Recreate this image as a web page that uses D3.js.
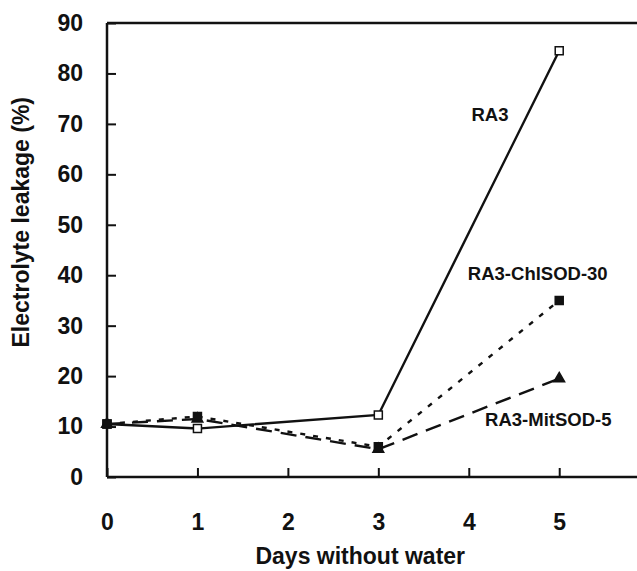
<!DOCTYPE html>
<html>
<head>
<meta charset="utf-8">
<script src="https://cdn.jsdelivr.net/npm/d3@7"></script>
<style>
  body { margin: 0; background: #fff; }
  text { font-family: "Liberation Sans", Arial, sans-serif; font-weight: bold; fill: #111; }
</style>
</head>
<body>
<div class="chart"></div>
<script>
// DATA
// ----------------------------
const days = [0, 1, 3, 5]
const ra3 = [10.5, 9.6, 12.3, 84.5]
const chlSod = [10.5, 12, 6, 35]
const mitSod = [10.5, 11.5, 5.5, 19.5]
const xTicks = [0, 1, 2, 3, 4, 5]
const yTicks = [0, 10, 20, 30, 40, 50, 60, 70, 80, 90]

// SETUP
// ----------------------------
const margin = { top: 23, bottom: 94, left: 107, right: 0 }
const fullWidth = 637
const fullHeight = 571
const width = fullWidth - margin.left - margin.right
const height = fullHeight - margin.top - margin.bottom

const svg = d3.select('.chart')
  .append('svg')
    .attr('width', fullWidth)
    .attr('height', fullHeight)
  .append('g')
    .attr('transform', `translate(${margin.left}, ${margin.top})`)

const xScale = d3.scaleLinear()
  .domain([0, 5.86])
  .range([0, width])
const yScale = d3.scaleLinear()
  .domain([0, 90])
  .range([height, 0])

// AXES (ticks point inward)
// ----------------------------
const xMinor = d3.axisBottom(xScale)
  .tickValues(d3.range(0.5, 5.9, 1))
  .tickSize(-5).tickFormat('')
const xAxis = d3.axisBottom(xScale)
  .tickValues(xTicks)
  .tickSize(-9).tickPadding(37)
  .tickFormat(d3.format('d'))
const gx = svg.append('g').attr('transform', `translate(0, ${height})`)
gx.call(xMinor)
gx.call(xAxis)

const yMinor = d3.axisLeft(yScale)
  .tickValues(d3.range(0, 91, 2).filter(v => v % 10 !== 0))
  .tickSize(-5).tickFormat('')
const yAxis = d3.axisLeft(yScale)
  .tickValues(yTicks)
  .tickSize(-9).tickPadding(24)
const gy = svg.append('g')
gy.call(yMinor)
gy.call(yAxis)

svg.selectAll('.domain').attr('stroke', '#111').attr('stroke-width', 2.5)
svg.selectAll('.tick line').attr('stroke', '#111').attr('stroke-width', 2)
svg.selectAll('.tick text').style('font-size', '23px')
gx.selectAll('.domain').attr('d', `M0,0H${width}`)
gy.selectAll('.domain').attr('d', `M0,${height}V0`)

// top frame line
svg.append('line')
  .attr('x1', 0).attr('x2', width)
  .attr('y1', 0).attr('y2', 0)
  .attr('stroke', '#111').attr('stroke-width', 2.5)

// axis titles
svg.append('text')
  .attr('x', xScale(2.8)).attr('y', height + 87)
  .attr('text-anchor', 'middle')
  .style('font-size', '23px')
  .text('Days without water')
svg.append('text')
  .attr('transform', `translate(${-78}, ${yScale(50.5)}) rotate(-90)`)
  .attr('text-anchor', 'middle')
  .style('font-size', '23px')
  .text('Electrolyte leakage (%)')

// LINES
// ----------------------------
const series = [
  { name: 'RA3', values: ra3, dash: null, marker: 'open' },
  { name: 'RA3-MitSOD-5', values: mitSod, dash: '16,9', marker: 'tri' },
  { name: 'RA3-ChlSOD-30', values: chlSod, dash: '5,8', marker: 'fill' }
]
const line = d3.line()
  .x(d => xScale(d[0]))
  .y(d => yScale(d[1]))

series.forEach(s => {
  const pts = days.map((d, i) => [d, s.values[i]])
  svg.append('path')
    .attr('d', line(pts))
    .attr('fill', 'none')
    .attr('stroke', '#111')
    .attr('stroke-width', 2.4)
    .attr('stroke-dasharray', s.dash)

  const sym = s.marker === 'tri' ? d3.symbolTriangle : d3.symbolSquare
  svg.selectAll(null)
    .data(pts)
    .enter()
    .append('path')
    .attr('transform', d => `translate(${xScale(d[0])}, ${yScale(d[1])})`)
    .attr('d', d3.symbol(sym, s.marker === 'tri' ? 50 : 64))
    .attr('fill', s.marker === 'open' ? '#fff' : '#111')
    .attr('stroke', '#111')
    .attr('stroke-width', 1.5)
})

// SERIES LABELS
// ----------------------------
const labels = [
  { text: 'RA3', x: 4.03, y: 70.5 },
  { text: 'RA3-ChlSOD-30', x: 3.99, y: 39 },
  { text: 'RA3-MitSOD-5', x: 4.18, y: 10.2 }
]
svg.selectAll('.lbl')
  .data(labels)
  .enter()
  .append('text')
  .attr('class', 'lbl')
  .attr('x', d => xScale(d.x))
  .attr('y', d => yScale(d.y))
  .style('font-size', '18.5px')
  .text(d => d.text)
</script>
</body>
</html>
